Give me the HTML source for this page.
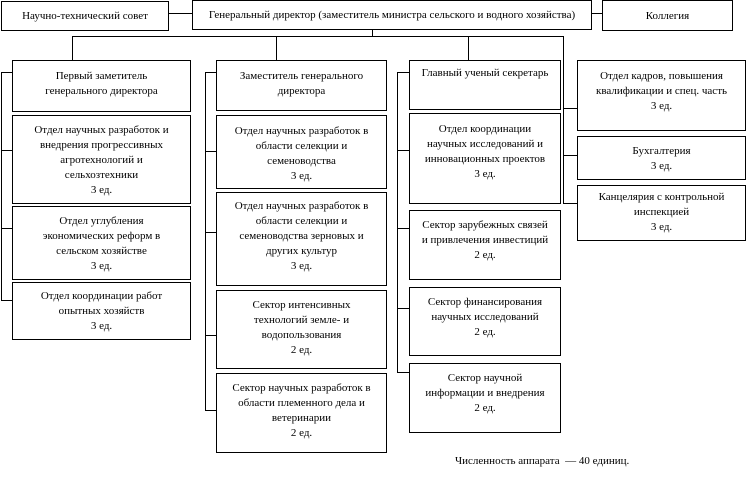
<!DOCTYPE html>
<html><head><meta charset="utf-8"><style>
body{margin:0;width:746px;height:495px;background:#fff;position:relative;overflow:hidden;font-family:"Liberation Serif","DejaVu Serif",serif;font-size:11px;color:#000}
.b{position:absolute;border:1px solid #000;box-sizing:border-box;text-align:center;line-height:15px;padding-top:6px;background:#fff}
.h{position:absolute;height:1px;background:#000}
.v{position:absolute;width:1px;background:#000}
</style></head><body>
<div class="b" style="left:1px;top:1px;width:168px;height:30px;padding-top:7px">Научно-технический совет</div>
<div class="b" style="left:192px;top:0;width:400px;height:30px;padding-top:7px">Генеральный директор (заместитель министра сельского и водного хозяйства)</div>
<div class="b" style="left:602px;top:0;width:131px;height:31px;padding-top:8px">Коллегия</div>
<div class="h" style="left:169px;top:13px;width:23px"></div>
<div class="h" style="left:592px;top:13px;width:10px"></div>
<div class="v" style="left:372px;top:30px;height:6px"></div>
<div class="h" style="left:72px;top:36px;width:492px"></div>
<div class="v" style="left:72px;top:36px;height:24px"></div>
<div class="v" style="left:276px;top:36px;height:24px"></div>
<div class="v" style="left:468px;top:36px;height:24px"></div>
<div class="v" style="left:563px;top:36px;height:167px"></div>
<div class="h" style="left:563px;top:108px;width:14px"></div>
<div class="h" style="left:563px;top:155px;width:14px"></div>
<div class="h" style="left:563px;top:203px;width:14px"></div>

<div class="v" style="left:1px;top:72px;height:229px"></div>
<div class="h" style="left:1px;top:72px;width:12px"></div>
<div class="h" style="left:1px;top:150px;width:12px"></div>
<div class="h" style="left:1px;top:228px;width:12px"></div>
<div class="h" style="left:1px;top:300px;width:12px"></div>
<div class="b" style="left:12px;top:60px;width:179px;height:52px;padding-top:8px">Первый заметитель<br>генерального директора</div>
<div class="b" style="left:12px;top:115px;width:179px;height:89px;padding-top:7px">Отдел научных разработок и<br>внедрения прогрессивных<br>агротехнологий и<br>сельхозтехники<br>3 ед.</div>
<div class="b" style="left:12px;top:206px;width:179px;height:74px;padding-top:7px">Отдел углубления<br>экономических реформ в<br>сельском хозяйстве<br>3 ед.</div>
<div class="b" style="left:12px;top:282px;width:179px;height:58px;padding-top:6px">Отдел координации работ<br>опытных хозяйств<br>3 ед.</div>

<div class="v" style="left:205px;top:72px;height:339px"></div>
<div class="h" style="left:205px;top:72px;width:12px"></div>
<div class="h" style="left:205px;top:151px;width:12px"></div>
<div class="h" style="left:205px;top:232px;width:12px"></div>
<div class="h" style="left:205px;top:335px;width:12px"></div>
<div class="h" style="left:205px;top:410px;width:12px"></div>
<div class="b" style="left:216px;top:60px;width:171px;height:51px;padding-top:8px">Заместитель генерального<br>директора</div>
<div class="b" style="left:216px;top:115px;width:171px;height:74px;padding-top:8px">Отдел научных разработок в<br>области селекции и<br>семеноводства<br>3 ед.</div>
<div class="b" style="left:216px;top:192px;width:171px;height:94px;padding-top:6px">Отдел научных разработок в<br>области селекции и<br>семеноводства зерновых и<br>других культур<br>3 ед.</div>
<div class="b" style="left:216px;top:290px;width:171px;height:79px;padding-top:7px">Сектор интенсивных<br>технологий земле- и<br>водопользования<br>2 ед.</div>
<div class="b" style="left:216px;top:373px;width:171px;height:80px;padding-top:7px">Сектор научных разработок в<br>области племенного дела и<br>ветеринарии<br>2 ед.</div>

<div class="v" style="left:397px;top:72px;height:300px"></div>
<div class="h" style="left:397px;top:72px;width:12px"></div>
<div class="h" style="left:397px;top:150px;width:12px"></div>
<div class="h" style="left:397px;top:228px;width:12px"></div>
<div class="h" style="left:397px;top:308px;width:12px"></div>
<div class="h" style="left:397px;top:372px;width:12px"></div>
<div class="b" style="left:409px;top:60px;width:152px;height:50px;padding-top:5px">Главный ученый секретарь</div>
<div class="b" style="left:409px;top:113px;width:152px;height:91px;padding-top:8px">Отдел координации<br>научных исследований и<br>инновационных проектов<br>3 ед.</div>
<div class="b" style="left:409px;top:210px;width:152px;height:70px;padding-top:7px">Сектор зарубежных связей<br>и привлечения инвестиций<br>2 ед.</div>
<div class="b" style="left:409px;top:287px;width:152px;height:69px;padding-top:7px">Сектор финансирования<br>научных исследований<br>2 ед.</div>
<div class="b" style="left:409px;top:363px;width:152px;height:70px;padding-top:7px">Сектор научной<br>информации и внедрения<br>2 ед.</div>

<div class="b" style="left:577px;top:60px;width:169px;height:71px;padding-top:8px">Отдел кадров, повышения<br>квалификации и спец. часть<br>3 ед.</div>
<div class="b" style="left:577px;top:136px;width:169px;height:44px;padding-top:7px">Бухгалтерия<br>3 ед.</div>
<div class="b" style="left:577px;top:185px;width:169px;height:56px;padding-top:4px">Канцелярия с контрольной<br>инспекцией<br>3 ед.</div>

<div style="position:absolute;left:455px;top:455px;white-space:pre">Численность аппарата  — 40 единиц.</div>
</body></html>
